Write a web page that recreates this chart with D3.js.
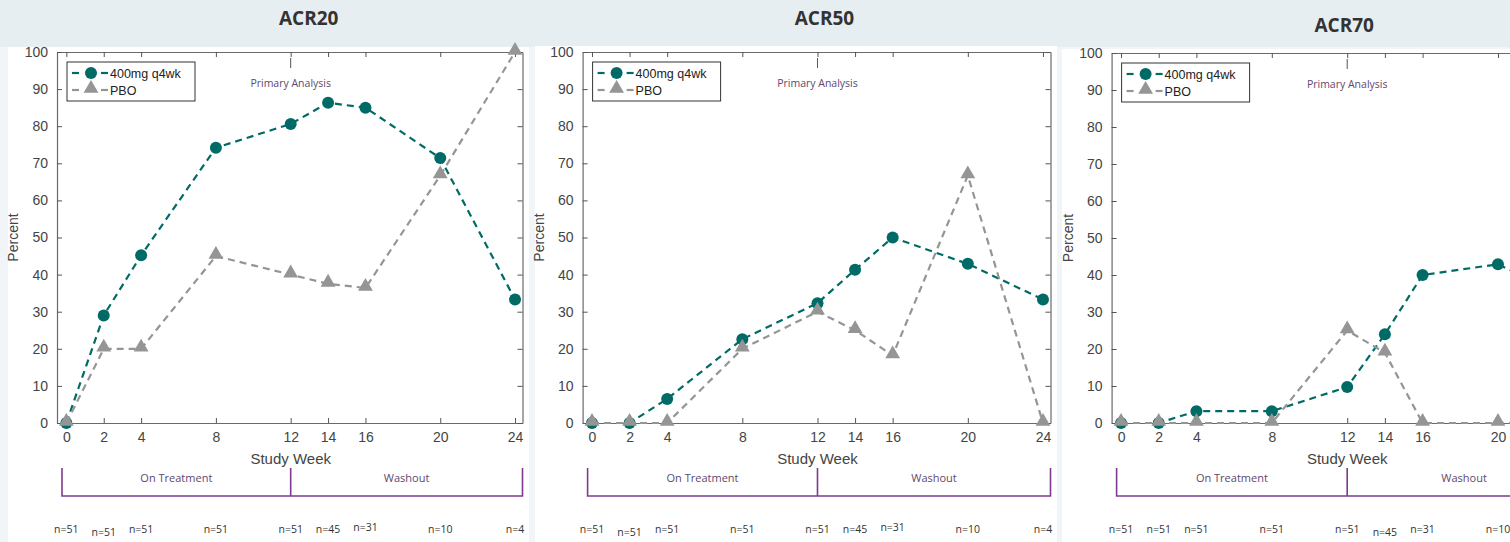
<!DOCTYPE html>
<html>
<head>
<meta charset="utf-8">
<script src="https://cdn.jsdelivr.net/npm/d3@7"></script>
<style>
  html, body { margin: 0; padding: 0; background: #f1f5f7; }
  svg { display: block; }
</style>
</head>
<body>
<svg id="chart" width="1510" height="542"></svg>
<script>
// ---- data ----
const weeks = [0, 2, 4, 8, 12, 14, 16, 20, 24];
const weekTicks = [0, 2, 4, 8, 12, 14, 16, 20, 24];
const percentTicks = [0, 10, 20, 30, 40, 50, 60, 70, 80, 90, 100];
const panelTitles = ["ACR20", "ACR50", "ACR70"];
const seriesNames = ["400mg q4wk", "PBO"];

const acr20Drug = [0, 29, 45.2, 74.2, 80.6, 86.3, 85, 71.4, 33.3];
const acr20Pbo  = [0, 20, 20, 45, 40, 37.5, 36.4, 66.7, 100];
const acr50Drug = [0, 0, 6.5, 22.6, 32.3, 41.3, 50, 42.9, 33.3];
const acr50Pbo  = [0, 0, 0, 20, 30, 25, 18.2, 66.7, 0];
const acr70Drug = [0, 0, 3.2, 3.2, 9.7, 24, 40, 42.9, 33.3];
const acr70Pbo  = [0, 0, 0, 0, 25, 19, 0, 0, 0];

const nLabels = ["n=51", "n=51", "n=51", "n=51", "n=51", "n=45", "n=31", "n=10", "n=4"];
const phaseLabels = ["On Treatment", "Washout"];
const annotationText = "Primary Analysis";

// ---- layout ----
const svg = d3.select("#chart");
const TEAL = "#006b66";
const GREY = "#959595";
const PURPLE = "#7e3a8e";
const PURPLE_TEXT = "#5f476e";

const panels = [
  { title: panelTitles[0], drug: acr20Drug, pbo: acr20Pbo, bg: [8, 47, 521, 495], titleDx: 18, titleY: 25, frameL: 57, frameR: 522.5, top: 52, nDy: [0, 3, 0, 0, 0, 0, -2, 0, 0] },
  { title: panelTitles[1], drug: acr50Drug, pbo: acr50Pbo, bg: [535, 46, 522, 496], titleDx: 7, titleY: 25, frameL: 582.6, frameR: 1050.5, top: 52, nDy: [0, 3, 0, 0, 0, 0, -2, 0, 0] },
  { title: panelTitles[2], drug: acr70Drug, pbo: acr70Pbo, bg: [1062, 49, 460, 493], titleDx: -3, titleY: 32, frameL: 1111.6, frameR: 1580.9, top: 53, nDy: [0, 0, 0, 0, 0, 3, 0, 0, 0] }
];
const BOTTOM = 423;

// header band
svg.append("rect").attr("x", 0).attr("y", 0).attr("width", 1510).attr("height", 47).attr("fill", "#e7eef1");

panels.forEach(p => {
  const g = svg.append("g");
  g.append("rect").attr("x", p.bg[0]).attr("y", p.bg[1]).attr("width", p.bg[2]).attr("height", p.bg[3]).attr("fill", "#ffffff");

  const x = d3.scaleLinear().domain([-0.5, 24.4]).range([p.frameL, p.frameR]);
  const y = d3.scaleLinear().domain([0, 100]).range([BOTTOM, p.top]);

  // title
  svg.append("text").attr("x", x(12) + p.titleDx).attr("y", p.titleY)
    .attr("text-anchor", "middle").attr("font-family", "Open Sans").attr("font-weight", 700)
    .attr("font-size", 19).attr("fill", "#333").text(p.title);

  // axes with inward ticks, MATLAB-style box
  const axisStyle = sel => {
    sel.selectAll("path.domain").attr("stroke", "#6a6a6a").attr("stroke-width", 1.2);
    sel.selectAll(".tick line").attr("stroke", "#555");
    sel.selectAll(".tick text").attr("fill", "#444").attr("font-family", "Liberation Sans, Arial").attr("font-size", 14);
  };
  g.append("g").attr("transform", `translate(0,${BOTTOM})`)
    .call(d3.axisBottom(x).tickValues(weekTicks).tickSize(-5).tickSizeOuter(0).tickPadding(9))
    .call(axisStyle);
  g.append("g").attr("transform", `translate(0,${p.top})`)
    .call(d3.axisTop(x).tickValues(weekTicks).tickSize(-5).tickSizeOuter(0).tickFormat(""))
    .call(axisStyle);
  g.append("g").attr("transform", `translate(${p.frameL},0)`)
    .call(d3.axisLeft(y).tickValues(percentTicks).tickSize(-5).tickSizeOuter(0).tickPadding(9))
    .call(axisStyle);
  g.append("g").attr("transform", `translate(${p.frameR},0)`)
    .call(d3.axisRight(y).tickValues(percentTicks).tickSize(-5).tickSizeOuter(0).tickFormat(""))
    .call(axisStyle);

  // axis titles
  g.append("text").attr("x", x(12)).attr("y", 464).attr("text-anchor", "middle")
    .attr("font-family", "Liberation Sans, Arial").attr("font-size", 15).attr("fill", "#444").text("Study Week");
  g.append("text").attr("transform", `translate(${p.frameL - 39},${y(50)}) rotate(-90)`).attr("text-anchor", "middle")
    .attr("font-family", "Liberation Sans, Arial").attr("font-size", 14).attr("fill", "#444").text("Percent");

  // primary analysis marker
  g.append("line").attr("x1", x(12)).attr("x2", x(12)).attr("y1", p.top + 6).attr("y2", p.top + 16)
    .attr("stroke", "#555").attr("stroke-width", 1);
  g.append("text").attr("x", x(12)).attr("y", p.top + 35).attr("text-anchor", "middle")
    .attr("font-family", "Open Sans").attr("font-size", 10.5).attr("fill", PURPLE_TEXT).text(annotationText);

  // series
  const line = d3.line().x((d, i) => x(weeks[i])).y(d => y(d));
  const plot = g.append("g");
  plot.append("path").datum(p.drug).attr("d", line).attr("fill", "none")
    .attr("stroke", TEAL).attr("stroke-width", 2.2).attr("stroke-dasharray", "7,5");
  plot.selectAll("circle.drug").data(p.drug).join("circle").attr("class", "drug")
    .attr("cx", (d, i) => x(weeks[i])).attr("cy", d => y(d)).attr("r", 6).attr("fill", TEAL);
  plot.append("path").datum(p.pbo).attr("d", line).attr("fill", "none")
    .attr("stroke", GREY).attr("stroke-width", 2.2).attr("stroke-dasharray", "7,5");
  const tri = d3.symbol().type(d3.symbolTriangle).size(95);
  plot.selectAll("path.pbo").data(p.pbo).join("path").attr("class", "pbo")
    .attr("d", tri).attr("transform", (d, i) => `translate(${x(weeks[i])},${y(d) - 1.5})`).attr("fill", GREY);

  // legend
  const lg = g.append("g").attr("transform", `translate(${p.frameL + 10},${p.top + 10})`);
  lg.append("rect").attr("width", 128).attr("height", 39).attr("fill", "#fff").attr("stroke", "#333").attr("stroke-width", 1);
  [[TEAL, "circle", seriesNames[0]], [GREY, "tri", seriesNames[1]]].forEach((row, k) => {
    const ry = 11 + k * 17;
    lg.append("line").attr("x1", 5).attr("x2", 12).attr("y1", ry).attr("y2", ry).attr("stroke", row[0]).attr("stroke-width", 2.2);
    lg.append("line").attr("x1", 34).attr("x2", 41).attr("y1", ry).attr("y2", ry).attr("stroke", row[0]).attr("stroke-width", 2.2);
    if (row[1] === "circle") lg.append("circle").attr("cx", 24).attr("cy", ry).attr("r", 6).attr("fill", row[0]);
    else lg.append("path").attr("d", tri).attr("transform", `translate(24,${ry - 1.5})`).attr("fill", row[0]);
    lg.append("text").attr("x", 43).attr("y", ry + 4.5).attr("font-family", "Liberation Sans, Arial")
      .attr("font-size", 12.5).attr("fill", "#222").text(row[2]);
  });

  // phase bracket
  const bx0 = p.frameL + 5, bx1 = x(12), bx2 = p.frameR;
  const bt = 468, bb = 496;
  g.append("path").attr("d", `M${bx0},${bt}V${bb}H${bx2}V${bt}M${bx1},${bt}V${bb}`)
    .attr("fill", "none").attr("stroke", PURPLE).attr("stroke-width", 1.6);
  g.append("text").attr("x", (bx0 + bx1) / 2).attr("y", 482).attr("text-anchor", "middle")
    .attr("font-family", "Open Sans").attr("font-size", 11).attr("fill", PURPLE_TEXT).text(phaseLabels[0]);
  g.append("text").attr("x", (bx1 + bx2) / 2).attr("y", 482).attr("text-anchor", "middle")
    .attr("font-family", "Open Sans").attr("font-size", 11).attr("fill", PURPLE_TEXT).text(phaseLabels[1]);

  // sample sizes
  g.selectAll("text.n").data(nLabels).join("text").attr("class", "n")
    .attr("x", (d, i) => x(weeks[i])).attr("y", (d, i) => 533 + p.nDy[i]).attr("text-anchor", "middle")
    .attr("font-family", "Open Sans").attr("font-size", 10.5).attr("fill", "#333").text(d => d);
});
</script>
</body>
</html>
